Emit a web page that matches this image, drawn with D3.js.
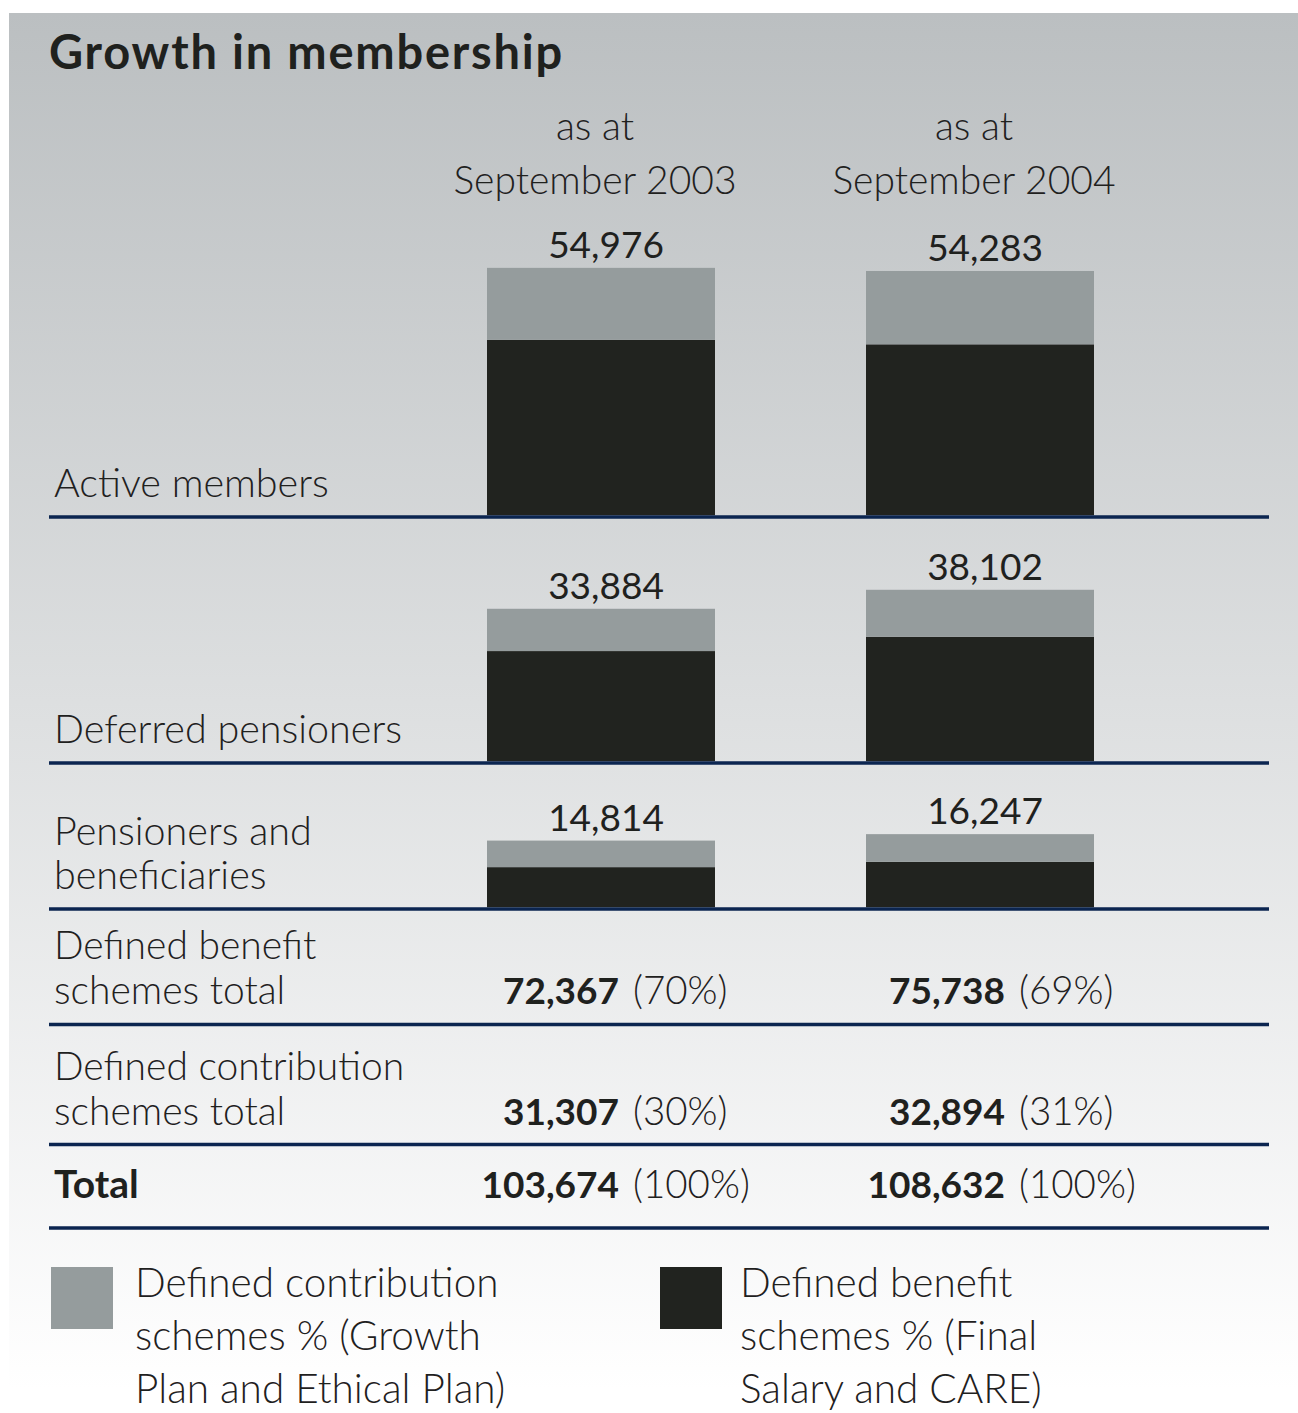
<!DOCTYPE html>
<html>
<head>
<meta charset="utf-8">
<script src="https://cdn.jsdelivr.net/npm/d3@7"></script>
<style>
  html, body { margin: 0; padding: 0; background: #ffffff; }
  svg { display: block; }
  text { font-family: "Lato", "Open Sans", sans-serif; fill: #1f211e; }
</style>
</head>
<body>
<svg id="chart" width="1298" height="1413"></svg>
<script>
// ---------------- data ----------------
const title = "Growth in membership";
const years = ["2003", "2004"];
const yearHeaders = [["as at", "September 2003"], ["as at", "September 2004"]];
const categories = [["Active members"], ["Deferred pensioners"], ["Pensioners and", "beneficiaries"]];
// defined contribution / defined benefit part of each bar (per category) for each year
const dc2003 = [16007, 9400, 5900];
const db2003 = [38969, 24484, 8914];
const dc2004 = [16300, 10450, 6144];
const db2004 = [37983, 27652, 10103];
const barTotals2003 = [54976, 33884, 14814];
const barTotals2004 = [54283, 38102, 16247];
const totalRowLabels = [["Defined benefit", "schemes total"], ["Defined contribution", "schemes total"], ["Total"]];
const totals2003 = [72367, 31307, 103674];
const totals2004 = [75738, 32894, 108632];
const pct2003 = ["(70%)", "(30%)", "(100%)"];
const pct2004 = ["(69%)", "(31%)", "(100%)"];
const legendItems = [
  { key: "dc", lines: ["Defined contribution", "schemes % (Growth", "Plan and Ethical Plan)"] },
  { key: "db", lines: ["Defined benefit", "schemes % (Final", "Salary and CARE)"] }
];

// ---------------- styling / layout ----------------
const colors = { dc: "#959c9d", db: "#21231f", rule: "#0b2550", text: "#1f211e" };
const svg = d3.select("#chart");
const fmt = d3.format(",");

// background gradient panel
const defs = svg.append("defs");
const grad = defs.append("linearGradient").attr("id", "bg").attr("x1", 0).attr("y1", 0).attr("x2", 0).attr("y2", 1);
grad.append("stop").attr("offset", "0%").attr("stop-color", "#bbbfc1");
grad.append("stop").attr("offset", "100%").attr("stop-color", "#ffffff");
svg.append("rect").attr("x", 9).attr("y", 13).attr("width", 1298 - 9).attr("height", 1390 - 13).attr("fill", "url(#bg)");

// title
svg.append("text").attr("x", 49).attr("y", 69)
  .style("font-size", "47px").style("font-weight", 700).style("letter-spacing", "1.8px").text(title);

// scales
const x = d3.scalePoint().domain(years).range([601, 980]);
const barW = 228;
const h = d3.scaleLinear().domain([0, 60000]).range([0, 270]);

// column headers
yearHeaders.forEach((lines, i) => {
  const cx = x(years[i]) - 6;
  const t = svg.append("text").attr("y", 140)
    .attr("text-anchor", "middle").style("font-size", "39px").style("font-weight", 300);
  lines.forEach((l, j) => t.append("tspan").attr("x", cx).attr("dy", j === 0 ? 0 : 54).text(l));
});

// section baselines (rule centres)
const sectionBase = [517, 763, 909];
const ruleYs = [517, 763, 909, 1024.5, 1144.5, 1228];
const ruleW = 3.5;

const series = years.map((yr, i) => ({
  year: yr,
  dc: i === 0 ? dc2003 : dc2004,
  db: i === 0 ? db2003 : db2004,
  tot: i === 0 ? barTotals2003 : barTotals2004
}));

categories.forEach((lines, c) => {
  const base = sectionBase[c] - ruleW / 2;
  const nLines = lines.length;
  const t = svg.append("text").style("font-size", "39.5px").style("font-weight", 300);
  lines.forEach((l, j) => t.append("tspan").attr("x", 54)
    .attr("y", base - 18 - (nLines - 1 - j) * 44).text(l));

  series.forEach(s => {
    const cx = x(s.year);
    const hDb = h(s.db[c]);
    const hDc = h(s.dc[c]);
    svg.append("rect").attr("x", cx - barW / 2).attr("y", base - hDb)
      .attr("width", barW).attr("height", hDb).attr("fill", colors.db);
    svg.append("rect").attr("x", cx - barW / 2).attr("y", base - hDb - hDc)
      .attr("width", barW).attr("height", hDc).attr("fill", colors.dc);
    svg.append("text").attr("x", cx + 5).attr("y", base - h(s.tot[c]) - 10)
      .attr("text-anchor", "middle").style("font-size", "37px").style("font-weight", 400)
      .text(fmt(s.tot[c]));
  });
});

// total rows
const totalBase = [1004, 1125, 1198];
totalRowLabels.forEach((lines, r) => {
  const isTotal = r === 2;
  const t = svg.append("text").style("font-size", "39px")
    .style("font-weight", isTotal ? 700 : 300);
  lines.forEach((l, j) => t.append("tspan").attr("x", 54)
    .attr("y", totalBase[r] - (lines.length - 1 - j) * 45).text(l));
  [[totals2003, pct2003], [totals2004, pct2004]].forEach(([vals, pcts], i) => {
    const anchor = i === 0 ? 619 : 1005;
    svg.append("text").attr("x", anchor).attr("y", totalBase[r]).attr("text-anchor", "end")
      .style("font-size", "37px").style("font-weight", 700).text(fmt(vals[r]));
    svg.append("text").attr("x", anchor + 14).attr("y", totalBase[r]).attr("text-anchor", "start")
      .style("font-size", "38.5px").style("font-weight", 300).text(pcts[r]);
  });
});

// rules
svg.selectAll("line.rule").data(ruleYs).join("line").attr("class", "rule")
  .attr("x1", 49).attr("x2", 1269).attr("y1", d => d).attr("y2", d => d)
  .attr("stroke", colors.rule).attr("stroke-width", ruleW);

// legend
const legendX = [51, 660];
const legendTextX = [135, 740];
legendItems.forEach((it, i) => {
  svg.append("rect").attr("x", legendX[i]).attr("y", 1267).attr("width", 62).attr("height", 62)
    .attr("fill", colors[it.key]);
  const t = svg.append("text").style("font-size", "40.5px").style("font-weight", 300);
  it.lines.forEach((l, j) => t.append("tspan").attr("x", legendTextX[i]).attr("y", 1297 + j * 53).text(l));
});
</script>
</body>
</html>
